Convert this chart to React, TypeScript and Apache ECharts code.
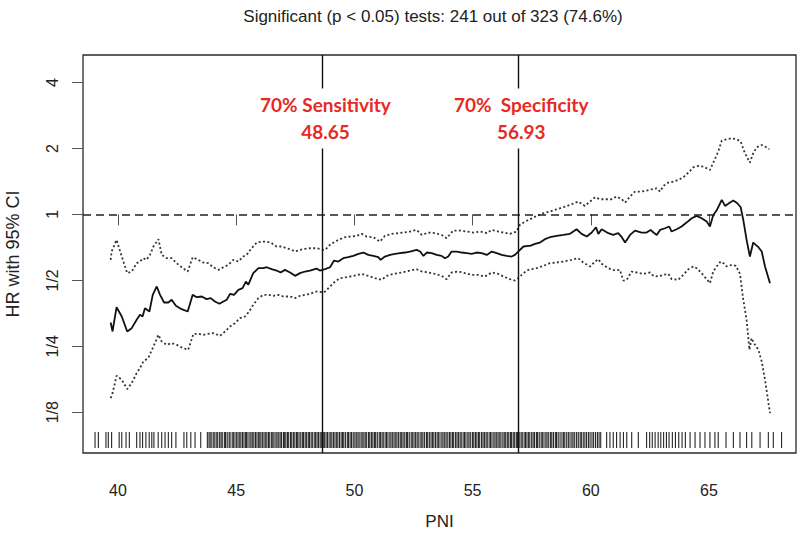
import React, { useEffect, useRef } from 'react';
import * as echarts from 'echarts';

// ---- data (x = PNI cut-point, y = log2 of HR) ----
const estX = [
  39.69, 39.77, 39.94, 40.16, 40.39, 40.58, 40.79, 40.93, 41.04, 41.14, 41.33, 41.47, 41.64, 41.78, 41.95, 42.13, 42.27, 42.45, 42.69, 42.95,
  43.16, 43.33, 43.54, 43.75, 43.92, 44.1, 44.29, 44.46, 44.6, 44.74, 44.91, 45.09, 45.27, 45.41, 45.51, 45.72, 45.94, 46.15, 46.29, 46.5,
  46.71, 46.88, 47.06, 47.28, 47.49, 47.7, 47.91, 48.12, 48.4, 48.54,
  48.76, 48.97, 49.14, 49.32, 49.53, 49.74, 49.95, 50.17, 50.38, 50.59, 50.8, 51.01, 51.11, 51.29, 51.51, 51.72, 51.93, 52.14, 52.35, 52.63,
  52.78, 52.92, 53.06, 53.27, 53.48, 53.69, 53.83, 53.97, 54.11, 54.33, 54.54, 54.75, 54.96, 55.17, 55.38, 55.6, 55.81, 56.02, 56.23, 56.44,
  56.65, 56.79, 56.93, 57.15, 57.36,
  57.43, 57.64, 57.85, 58.06, 58.27, 58.56, 58.84, 59.12, 59.4, 59.61, 59.83, 60.04, 60.22, 60.32, 60.46, 60.74, 60.95, 61.16, 61.31, 61.45,
  61.66, 61.87, 62.15, 62.36, 62.53, 62.65, 62.79, 62.93, 63.14, 63.32, 63.42, 63.63, 63.84, 64.05, 64.27, 64.48, 64.69, 64.9, 65.04, 65.18,
  65.32, 65.54, 65.68, 65.89, 66.03, 66.2, 66.34, 66.45, 66.59, 66.73, 66.87, 67.09, 67.23, 67.37, 67.58,
];
const estLog2 = [
  -1.639, -1.775, -1.407, -1.548, -1.775, -1.725, -1.598, -1.523, -1.548, -1.422, -1.472, -1.22, -1.093, -1.22, -1.336, -1.336, -1.295, -1.386, -1.437, -1.472,
  -1.22, -1.255, -1.245, -1.285, -1.27, -1.321, -1.356, -1.321, -1.295, -1.205, -1.22, -1.144, -1.119, -1.018, -1.068, -0.891, -0.816, -0.816, -0.801, -0.831,
  -0.851, -0.881, -0.841, -0.881, -0.932, -0.891, -0.866, -0.851, -0.821, -0.851,
  -0.831, -0.801, -0.7, -0.715, -0.664, -0.649, -0.629, -0.598, -0.578, -0.614, -0.629, -0.649, -0.689, -0.639, -0.614, -0.598, -0.588, -0.578, -0.563, -0.538,
  -0.563, -0.629, -0.578, -0.588, -0.614, -0.629, -0.664, -0.639, -0.563, -0.563, -0.578, -0.588, -0.598, -0.578, -0.588, -0.614, -0.563, -0.588, -0.614, -0.629,
  -0.639, -0.614, -0.563, -0.487, -0.477,
  -0.477, -0.447, -0.427, -0.376, -0.346, -0.326, -0.311, -0.295, -0.225, -0.295, -0.336, -0.275, -0.194, -0.295, -0.225, -0.285, -0.311, -0.285, -0.346, -0.427,
  -0.311, -0.245, -0.275, -0.275, -0.235, -0.275, -0.311, -0.235, -0.21, -0.184, -0.26, -0.225, -0.184, -0.124, -0.058, -0.023, -0.058, -0.109, -0.184, -0.008,
  0.058, 0.22, 0.129, 0.179, 0.21, 0.169, 0.109, -0.083, -0.386, -0.639, -0.427, -0.497, -0.563, -0.79, -1.043,
];

const upperX = [
  39.69, 39.73, 39.94, 40.16, 40.39, 40.58, 40.79, 40.93, 41.07, 41.21, 41.35, 41.5, 41.71, 41.85, 42.06, 42.27, 42.48, 42.69, 42.95, 43.16,
  43.4, 43.61, 43.82, 44.03, 44.25, 44.46, 44.67, 44.88, 45.09, 45.3, 45.44, 45.65, 45.87, 46.08, 46.29, 46.5, 46.71, 46.92, 47.13, 47.35,
  47.49, 47.7, 47.91, 48.12, 48.4, 48.69,
  48.76, 48.97, 49.18, 49.39, 49.6, 49.81, 50.1, 50.31, 50.52, 50.8, 51.08, 51.29, 51.58, 51.86, 52.07, 52.35, 52.63, 52.85, 53.13, 53.41,
  53.69, 53.9, 54.18, 54.47, 54.75, 55.03, 55.31, 55.6, 55.81, 56.09, 56.3, 56.58, 56.86, 57.0, 57.22,
  57.43, 57.71, 57.99, 58.27, 58.56, 58.84, 59.12, 59.47, 59.75, 59.97, 60.18, 60.39, 60.6, 60.88, 61.09, 61.31, 61.45, 61.66, 61.87, 62.15,
  62.36, 62.57, 62.79, 62.93, 63.07, 63.28, 63.49, 63.7, 63.91, 64.13, 64.34, 64.55, 64.76, 65.04, 65.18, 65.39, 65.54, 65.75, 65.96, 66.17,
  66.34, 66.52, 66.73, 66.87, 67.02, 67.23, 67.37, 67.55,
];
const upperLog2 = [
  -0.689, -0.563, -0.386, -0.639, -0.891, -0.866, -0.74, -0.715, -0.664, -0.689, -0.614, -0.487, -0.376, -0.614, -0.664, -0.664, -0.74, -0.801, -0.866, -0.649,
  -0.689, -0.73, -0.74, -0.801, -0.841, -0.801, -0.765, -0.689, -0.715, -0.639, -0.614, -0.513, -0.427, -0.412, -0.412, -0.437, -0.487, -0.487, -0.513, -0.538,
  -0.563, -0.538, -0.523, -0.513, -0.513, -0.538,
  -0.538, -0.462, -0.412, -0.376, -0.346, -0.336, -0.326, -0.295, -0.336, -0.346, -0.412, -0.326, -0.295, -0.285, -0.275, -0.26, -0.235, -0.311, -0.275, -0.285,
  -0.311, -0.361, -0.245, -0.245, -0.26, -0.275, -0.26, -0.285, -0.235, -0.26, -0.275, -0.295, -0.26, -0.159, -0.109,
  -0.073, -0.023, 0.018, 0.043, 0.078, 0.109, 0.144, 0.194, 0.129, 0.194, 0.26, 0.23, 0.23, 0.23, 0.27, 0.23, 0.179, 0.27, 0.346, 0.346,
  0.361, 0.381, 0.396, 0.346, 0.432, 0.482, 0.497, 0.523, 0.563, 0.634, 0.715, 0.735, 0.725, 0.674, 0.785, 0.952, 1.119, 1.139, 1.154, 1.139,
  1.104, 0.927, 0.785, 0.927, 1.018, 1.053, 1.028, 0.987,
];

const lowerX = [
  39.69, 39.77, 39.94, 40.16, 40.39, 40.58, 40.79, 40.93, 41.07, 41.28, 41.5, 41.71, 41.85, 42.06, 42.27, 42.48, 42.76, 42.97, 43.19, 43.4,
  43.61, 43.82, 44.03, 44.32, 44.53, 44.74, 44.95, 45.16, 45.37, 45.55, 45.72, 45.94, 46.15, 46.36, 46.57, 46.78, 46.99, 47.28, 47.49, 47.7,
  47.91, 48.12, 48.4, 48.69,
  48.76, 48.97, 49.18, 49.39, 49.67, 49.95, 50.31, 50.59, 50.87, 51.15, 51.37, 51.65, 52.0, 52.35, 52.63, 52.85, 53.13, 53.41, 53.69, 53.9,
  54.11, 54.4, 54.68, 54.96, 55.24, 55.52, 55.81, 56.09, 56.3, 56.58, 56.79, 56.93, 57.15, 57.36,
  57.71, 57.99, 58.27, 58.56, 58.84, 59.19, 59.47, 59.68, 59.97, 60.18, 60.32, 60.46, 60.74, 61.02, 61.23, 61.38, 61.52, 61.73, 61.94, 62.22,
  62.5, 62.65, 62.86, 63.07, 63.28, 63.42, 63.7, 63.91, 64.13, 64.34, 64.48, 64.69, 64.9, 65.04, 65.18, 65.32, 65.49, 65.61, 65.75, 65.96,
  66.14, 66.31, 66.45, 66.59, 66.71, 66.8, 66.9, 67.09, 67.23, 67.37, 67.58,
];
const lowerLog2 = [
  -2.785, -2.71, -2.447, -2.508, -2.649, -2.558, -2.407, -2.331, -2.23, -2.179, -2.003, -1.826, -1.927, -1.977, -1.952, -1.977, -2.028, -2.053, -1.811, -1.811,
  -1.826, -1.811, -1.8, -1.841, -1.775, -1.699, -1.649, -1.573, -1.548, -1.472, -1.371, -1.27, -1.22, -1.22, -1.235, -1.22, -1.245, -1.245, -1.27, -1.235,
  -1.22, -1.205, -1.169, -1.184,
  -1.169, -1.093, -1.018, -0.967, -0.952, -0.932, -0.902, -0.932, -0.967, -0.992, -0.932, -0.902, -0.881, -0.851, -0.831, -0.866, -0.881, -0.902, -0.932, -0.982,
  -0.881, -0.866, -0.891, -0.917, -0.917, -0.942, -0.881, -0.902, -0.942, -0.982, -1.003, -0.967, -0.891, -0.841,
  -0.816, -0.78, -0.74, -0.73, -0.715, -0.689, -0.664, -0.73, -0.79, -0.715, -0.679, -0.75, -0.816, -0.851, -0.841, -1.003, -0.992, -0.866, -0.881, -0.902,
  -0.881, -0.932, -0.942, -0.917, -0.902, -0.982, -0.992, -0.917, -0.831, -0.79, -0.816, -0.892, -0.982, -1.043, -0.866, -0.79, -0.715, -0.74, -0.79, -0.765,
  -0.78, -0.902, -1.295, -1.598, -2.053, -1.876, -1.952, -2.053, -2.23, -2.508, -3.013,
];

// rug of observed PNI values
const rugX = [
  39.03, 39.17, 39.49, 39.59, 39.73, 40.05, 40.16, 40.34, 40.48, 40.79, 40.93, 41.04, 41.18, 41.32, 41.43, 41.52, 41.7, 41.85, 41.99, 42.13,
  42.27, 42.45, 42.79, 42.91, 43.08, 43.26, 43.5,
  43.78, 43.85, 43.9, 43.97, 44.05, 44.1, 44.18, 44.22, 44.3, 44.36, 44.41, 44.5, 44.55, 44.62, 44.7, 44.74, 44.83, 44.88, 44.95, 45.02,
  45.08, 45.15, 45.2, 45.27, 45.33, 45.4, 45.44, 45.5, 45.58, 45.63, 45.7, 45.75, 45.82, 45.88, 45.95, 46.0, 46.05, 46.12, 46.18, 46.25,
  46.3, 46.37, 46.42, 46.5, 46.55, 46.6, 46.68, 46.73, 46.8, 46.86, 46.92, 47.0, 47.05, 47.1, 47.17, 47.22, 47.3, 47.35, 47.42, 47.48,
  47.55, 47.6, 47.66, 47.73, 47.8, 47.85, 47.92, 47.98, 48.05, 48.1, 48.17, 48.22, 48.3, 48.36, 48.42, 48.48, 48.55, 48.6, 48.68, 48.73,
  48.8, 48.86, 48.93, 49.0, 49.05, 49.12, 49.18, 49.25, 49.3, 49.37, 49.44, 49.5, 49.55, 49.62, 49.7, 49.75, 49.82, 49.88, 49.95, 50.02,
  50.08, 50.15, 50.2, 50.28, 50.33, 50.4, 50.46, 50.52, 50.6, 50.65, 50.72, 50.78, 50.85, 50.9, 50.97, 51.05, 51.1, 51.17, 51.22, 51.3,
  51.36, 51.42, 51.5, 51.55, 51.62, 51.68, 51.75, 51.8, 51.87, 51.94, 52.0, 52.06, 52.13, 52.2, 52.25, 52.32, 52.4, 52.45, 52.52, 52.58,
  52.65, 52.7, 52.78, 52.85, 52.9, 52.97, 53.05, 53.1, 53.17, 53.24, 53.3, 53.36, 53.43, 53.5, 53.55, 53.62, 53.7, 53.75, 53.82, 53.88,
  53.95, 54.02, 54.08, 54.15, 54.2, 54.28, 54.34, 54.4, 54.47, 54.52, 54.6, 54.66, 54.72, 54.8, 54.85, 54.92, 55.0, 55.05, 55.12, 55.18,
  55.25, 55.3, 55.38, 55.44, 55.5, 55.57, 55.62, 55.7, 55.76, 55.82, 55.9, 55.95, 56.02, 56.08, 56.15, 56.2, 56.28, 56.34, 56.4, 56.47,
  56.53, 56.6, 56.65, 56.72, 56.78, 56.85, 56.9, 56.97, 57.05, 57.1, 57.18, 57.24, 57.3, 57.37, 57.42, 57.5, 57.56, 57.62, 57.7, 57.75,
  57.82, 57.9, 57.95, 58.02, 58.1, 58.15, 58.22, 58.3, 58.35, 58.42, 58.5, 58.55, 58.62, 58.7, 58.78, 58.85, 58.9, 58.98, 59.05, 59.12,
  59.2, 59.25, 59.32, 59.4, 59.47, 59.55, 59.6, 59.68, 59.75, 59.82, 59.9, 59.97, 60.05, 60.12, 60.2, 60.28, 60.35, 60.42,
  60.67, 60.81, 60.95, 61.09, 61.24, 61.38, 61.52, 61.73, 62.01,
  62.36, 62.49, 62.6, 62.72, 62.85, 62.96, 63.08, 63.2, 63.31, 63.45, 63.58, 63.72, 63.86, 64.0, 64.2,
  64.41, 64.62, 64.83, 65.04, 65.25, 65.39, 65.72, 66.03, 66.31, 66.59, 66.81, 67.16, 67.51, 67.72, 68.07,
];

const xTicks = [40, 45, 50, 55, 60, 65];
const yTickLog2 = [-3, -2, -1, 0, 1, 2];
const yTickLabels = ['1/8', '1/4', '1/2', '1', '2', '4'];
const cutpoints = [48.65, 56.93];
const cutTitles = ['70% Sensitivity', '70%  Specificity'];
const cutLabelLog2 = 1.455;
const titleText = 'Significant (p < 0.05) tests: 241 out of 323 (74.6%)';
const xName = 'PNI';
const yName = 'HR with 95% CI';
const xRange = [38.52, 68.68];
const yRange = [-3.618, 2.417];

export default function App() {
  const ref = useRef<HTMLDivElement>(null);

  useEffect(() => {
    document.body.style.margin = '0';
    const chart = echarts.init(ref.current as HTMLDivElement, null, { renderer: 'svg' });
    const zip = (xs: number[], ys: number[]) => xs.map((x, i) => [x, ys[i]]);
    const font = '"Liberation Sans", Arial, Helvetica, sans-serif';
    const red = '#e62a24';

    chart.setOption({
      animation: false,
      backgroundColor: '#ffffff',
      title: {
        text: titleText,
        left: 428,
        top: 3,
        textAlign: 'center',
        textStyle: { fontFamily: font, fontSize: 17, fontWeight: 'normal', color: '#222' },
      },
      grid: {
        left: 83,
        right: 4,
        top: 55,
        bottom: 88,
        containLabel: false,
        outerBoundsMode: 'none',
        show: true,
        borderColor: '#2a2a2a',
        borderWidth: 1.3,
        backgroundColor: 'transparent',
      },
      xAxis: {
        type: 'value',
        min: xRange[0],
        max: xRange[1],
        name: xName,
        nameLocation: 'middle',
        nameGap: 60,
        nameTextStyle: { fontFamily: font, fontSize: 17, color: '#222' },
        axisLine: { show: false },
        splitLine: { show: false },
        axisTick: { show: true, inside: false, length: 11, customValues: xTicks, lineStyle: { color: '#555', width: 1 } },
        axisLabel: { customValues: xTicks, margin: 29, fontFamily: font, fontSize: 16, color: '#222' },
      },
      yAxis: {
        type: 'value',
        min: yRange[0],
        max: yRange[1],
        name: yName,
        nameLocation: 'middle',
        nameRotate: 90,
        nameGap: 61,
        nameTextStyle: { fontFamily: font, fontSize: 18, color: '#222' },
        axisLine: { show: false },
        splitLine: { show: false },
        axisTick: { show: true, inside: false, length: 11, customValues: yTickLog2, lineStyle: { color: '#555', width: 1 } },
        axisLabel: {
          customValues: yTickLog2,
          rotate: 90,
          margin: 23,
          fontFamily: font,
          fontSize: 16,
          color: '#222',
          formatter: (v: number) => {
            const i = yTickLog2.findIndex((t) => Math.abs(t - v) < 1e-6);
            return i >= 0 ? yTickLabels[i] : '';
          },
        },
      },
      series: [
        {
          type: 'custom',
          name: 'rug',
          silent: true,
          z: 1,
          data: rugX.map((x) => [x]),
          encode: { x: 0 },
          renderItem: (params: any, api: any) => {
            const p = api.coord([api.value(0), yRange[0]]);
            return {
              type: 'line',
              shape: { x1: p[0], y1: p[1] - 5, x2: p[0], y2: p[1] - 21 },
              style: { stroke: '#262626', lineWidth: 1.1 },
            };
          },
        },
        {
          type: 'line',
          name: 'upper',
          data: zip(upperX, upperLog2),
          showSymbol: false,
          silent: true,
          z: 3,
          lineStyle: { color: '#333', width: 1.8, type: [2, 2.4] },
        },
        {
          type: 'line',
          name: 'lower',
          data: zip(lowerX, lowerLog2),
          showSymbol: false,
          silent: true,
          z: 3,
          lineStyle: { color: '#333', width: 1.8, type: [2, 2.4] },
        },
        {
          type: 'line',
          name: 'HR',
          data: zip(estX, estLog2),
          showSymbol: false,
          silent: true,
          z: 4,
          lineStyle: { color: '#111', width: 1.8 },
          markLine: {
            silent: true,
            symbol: ['none', 'none'],
            label: { show: false },
            data: [
              { yAxis: 0, lineStyle: { type: [8, 5], color: '#222', width: 1.6 } },
              ...cutpoints.map((c) => ({ xAxis: c, lineStyle: { type: 'solid', color: '#111', width: 1.4 } })),
            ],
          },
        },
        {
          type: 'scatter',
          name: 'cut labels',
          silent: true,
          z: 10,
          symbolSize: 1,
          itemStyle: { color: 'rgba(0,0,0,0)', opacity: 1 },
          data: cutpoints.map((c, i) => ({ value: [c, cutLabelLog2], name: cutTitles[i] })),
          label: {
            show: true,
            position: 'inside',
            offset: [3, 0],
            formatter: (p: any) => `${p.name}\n${p.value[0].toFixed(2)}`,
            fontFamily: 'Lato, "Open Sans", sans-serif',
            fontWeight: 'bold',
            fontSize: 19,
            lineHeight: 27,
            color: red,
            opacity: 1,
            backgroundColor: '#ffffff',
            padding: [3, 2],
            align: 'center',
            verticalAlign: 'middle',
          },
        },
      ],
    });

    return () => chart.dispose();
  }, []);

  return <div ref={ref} style={{ width: 800, height: 541 }} />;
}
